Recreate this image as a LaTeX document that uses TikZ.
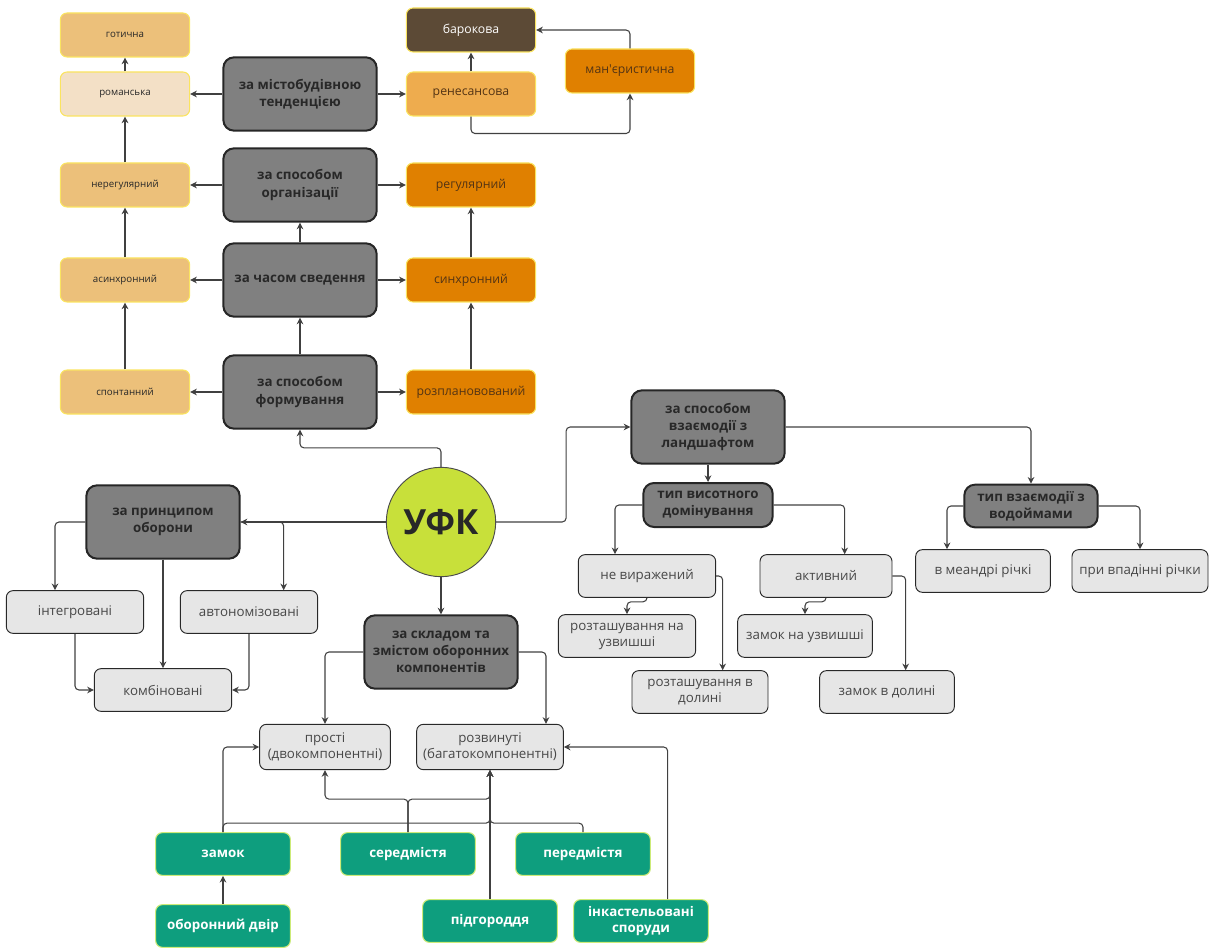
\documentclass[tikz,border=0pt]{standalone}
\usepackage{fontspec}
\setmainfont{Open Sans}
\usetikzlibrary{arrows.meta}

\definecolor{catgray}{RGB}{128,128,128}
\definecolor{lightbox}{RGB}{230,230,230}
\definecolor{tanfill}{RGB}{236,192,122}
\definecolor{paletan}{RGB}{243,224,198}
\definecolor{yelline}{RGB}{250,228,96}
\definecolor{orangefill}{RGB}{224,128,0}
\definecolor{lightorange}{RGB}{238,172,78}
\definecolor{brownfill}{RGB}{92,74,54}
\definecolor{tealfill}{RGB}{14,158,126}
\definecolor{limeline}{RGB}{205,235,120}
\definecolor{limefill}{RGB}{200,224,58}
\definecolor{linegray}{RGB}{64,64,64}
\definecolor{darktext}{RGB}{40,40,40}
\definecolor{browntext}{RGB}{84,52,20}

\tikzset{
  catbox/.style={draw=black!85, line width=1.5pt, fill=catgray, rounded corners=8pt,
    minimum width=115pt, minimum height=55pt, align=center, text=darktext,
    font=\bfseries\fontsize{10}{13}\selectfont},
  ybox/.style={draw=yelline, line width=0.8pt, fill=tanfill, rounded corners=5pt,
    minimum width=97pt, minimum height=33pt, text=darktext, font=\fontsize{7.3}{9}\selectfont},
  obox/.style={draw=yelline, line width=0.8pt, fill=orangefill, rounded corners=5pt,
    minimum width=97pt, minimum height=33pt, text=browntext, font=\fontsize{9.2}{11}\selectfont},
  lbox/.style={draw=darktext, line width=0.7pt, fill=lightbox, rounded corners=5pt,
    minimum width=103pt, minimum height=32pt, align=center, text=darktext!85,
    font=\fontsize{10}{12}\selectfont},
  gbox/.style={draw=limeline, line width=0.8pt, fill=tealfill, rounded corners=5pt,
    minimum width=101pt, minimum height=32pt, align=center, text=white,
    font=\bfseries\fontsize{10}{12}\selectfont},
  con/.style={draw=linegray, line width=0.8pt, rounded corners=3pt,
    -{Stealth[length=5pt,width=5pt]}}
}

\begin{document}
\begin{tikzpicture}[x=0.75pt,y=-0.75pt]
\useasboundingbox (0,0) rectangle (1212,948);

% left column
\node[ybox] (goth) at (125,35) {готична};
\node[ybox, fill=paletan] (roman) at (125,94) {романська};
\node[ybox] (nereg) at (125,185) {нерегулярний};
\node[ybox] (asyn) at (125,280) {асинхронний};
\node[ybox] (spont) at (125,392) {спонтанний};

% criteria
\node[catbox] (tend) at (300,94) {за містобудівною\\тенденцією};
\node[catbox] (org) at (300,185) {за способом\\організації};
\node[catbox] (chas) at (300,280) {за часом сведення};
\node[catbox] (form) at (300,392) {за способом\\формування};

% right column
\node[obox, fill=brownfill, text=white] (baro) at (471,30) {барокова};
\node[obox, fill=lightorange] (rene) at (471,94) {ренесансова};
\node[obox] (maner) at (630,71) {ман\textquotesingle єристична};
\node[obox] (reg) at (471,185) {регулярний};
\node[obox] (syn) at (471,280) {синхронний};
\node[obox] (plan) at (471,392) {розплановований};

\draw[con] (tend) -- (roman);
\draw[con] (tend) -- (rene);
\draw[con] (roman) -- (goth);
\draw[con] (rene) -- (baro);
\draw[con] (rene.south) -- ++(0,17) -| (maner.south);
\draw[con] (maner.north) |- (baro.east);

\draw[con] (org) -- (nereg);
\draw[con] (org) -- (reg);
\draw[con] (nereg) -- (roman);

\draw[con] (chas) -- (asyn);
\draw[con] (chas) -- (syn);
\draw[con] (chas) -- (org);
\draw[con] (asyn) -- (nereg);
\draw[con] (syn) -- (reg);

\draw[con] (form) -- (spont);
\draw[con] (form) -- (plan);
\draw[con] (form) -- (chas);
\draw[con] (spont) -- (asyn);
\draw[con] (plan) -- (syn);

% centre
\node[circle, draw=black!70, line width=0.7pt, fill=limefill, minimum size=82pt, inner sep=0pt,
  text=darktext, font=\bfseries\fontsize{26}{28}\selectfont] (ufk) at (441,522) {УФК};

\draw[con] (ufk.north) -- ++(0,-19) -| (form.south);

% defence
\node[catbox] (prin) at (163,522) {за принципом\\оборони};
\node[lbox] (integ) at (75,612) {інтегровані};
\node[lbox] (avto) at (249,612) {автономізовані};
\node[lbox] (komb) at (163,690) {комбіновані};

\draw[con] (ufk) -- (prin);
\draw[con] (prin.east) -| ([xshift=26pt]avto.north);
\draw[con] (prin.west) -| ([xshift=-15pt]integ.north);
\draw[con] (prin) -- (komb);
\draw[con] (integ.south) |- (komb.west);
\draw[con] (avto.south) |- (komb.east);

% composition
\node[catbox] (sklad) at (441,652) {за складом та\\змістом оборонних\\компонентів};
\node[lbox, minimum width=98pt, minimum height=34pt] (prosti) at (325,747) {прості\\(двокомпонентні)};
\node[lbox, minimum width=110pt, minimum height=34pt] (rozv) at (490,747) {розвинуті\\(багатокомпонентні)};

\draw[con] (ufk) -- (sklad);
\draw[con] (sklad.west) -| (prosti.north);
\draw[con] (sklad.east) -| ([xshift=42pt]rozv.north);

\node[gbox] (zamok) at (223,854) {замок};
\node[gbox] (dvir) at (223,926) {оборонний двір};
\node[gbox] (sered) at (408,854) {середмістя};
\node[gbox] (pered) at (583,854) {передмістя};
\node[gbox] (pidg) at (490,921) {підгороддя};
\node[gbox] (inkas) at (641,921) {інкастельовані\\споруди};

\draw[con] (dvir) -- (zamok);
\draw[con] (zamok.north) |- (prosti.west);
\draw[con] (zamok.north) -- ++(0,-9) -| (rozv.south);
\draw[con] (sered.north) -- ++(0,-33) -| (prosti.south);
\draw[con] (sered.north) -- ++(0,-33) -| (rozv.south);
\draw[con] (pered.north) -- ++(0,-9) -| (rozv.south);
\draw[con] (pidg) -- (rozv);
\draw[con] ([xshift=20pt]inkas.north) |- (rozv.east);

% landscape
\node[catbox] (land) at (708,427) {за способом\\взаємодії з\\ландшафтом};
\node[catbox, minimum width=97pt, minimum height=33pt] (vys) at (708,505) {тип висотного\\домінування};
\node[catbox, minimum width=100pt, minimum height=32pt] (vod) at (1031,506) {тип взаємодії з\\водоймами};

\node[lbox] (nevyr) at (647,576) {не виражений};
\node[lbox, minimum width=99pt] (aktiv) at (826,576) {активний};
\node[lbox, minimum width=101pt] (meandr) at (983,571) {в меандрі річкі};
\node[lbox, minimum width=102pt] (vpad) at (1140,571) {при впадінні річки};
\node[lbox] (uzv1) at (627,636) {розташування на\\узвишші};
\node[lbox, minimum width=101pt] (uzv2) at (805,636) {замок на узвишші};
\node[lbox, minimum width=102pt] (dol1) at (700,692) {розташування в\\долині};
\node[lbox, minimum width=101pt] (dol2) at (887,692) {замок в долині};

\draw[con] (ufk.east) -- ++(70,0) |- (land.west);
\draw[con] (land.east) -| (vod.north);
\draw[con] (land) -- (vys);
\draw[con] (vys.west) -| ([xshift=-24pt]nevyr.north);
\draw[con] (vys.east) -| ([xshift=14pt]aktiv.north);
\draw[con] (vod.west) -| ([xshift=-27pt]meandr.north);
\draw[con] (vod.east) -| (vpad.north);
\draw[con] (nevyr.south) -- ++(0,4) -| (uzv1.north);
\draw[con] (nevyr.east) -| ([xshift=17pt]dol1.north);
\draw[con] (aktiv.south) -- ++(0,4) -| (uzv2.north);
\draw[con] (aktiv.east) -| ([xshift=14pt]dol2.north);

\end{tikzpicture}
\end{document}
